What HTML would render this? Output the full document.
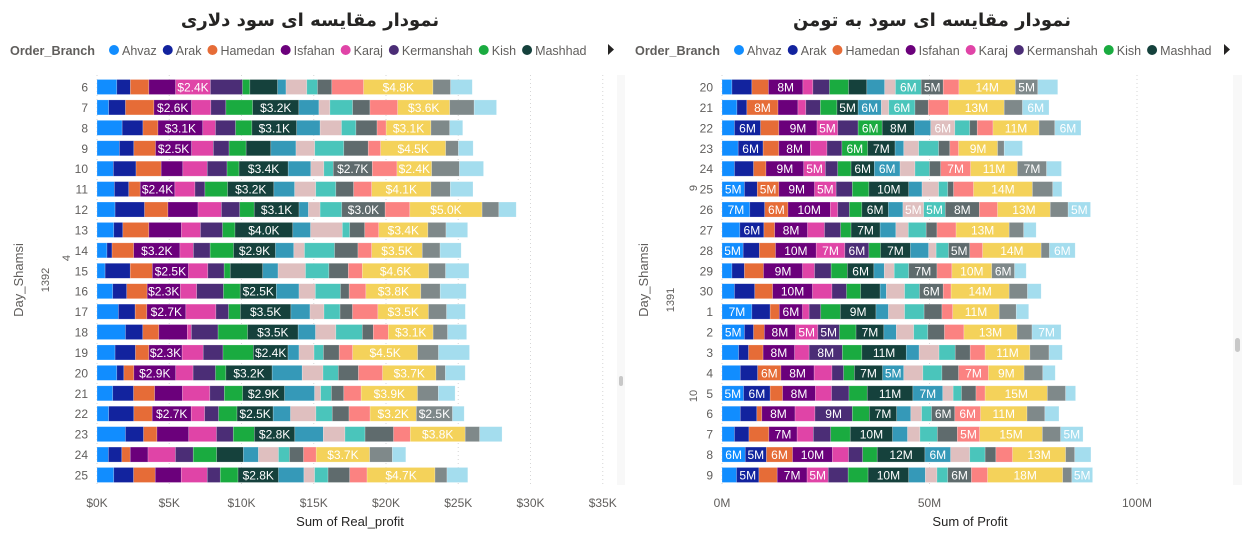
<!DOCTYPE html>
<html><head><meta charset="utf-8">
<style>
body{margin:0;background:#fff;font-family:"Liberation Sans","DejaVu Sans",sans-serif;}
svg{display:block}
</style></head>
<body>
<svg id="c" width="1248" height="540" xmlns="http://www.w3.org/2000/svg"></svg>
<script>
const seriesNames=["Ahvaz","Arak","Hamedan","Isfahan","Karaj","Kermanshah","Kish","Mashhad","S9","S10","S11","S12","S13","S14","S15","S16"];
const seriesColors=["#118DFF","#12239E","#E66C37","#6B007B","#E044A7","#4B2D76","#1AAB40","#15413C","#3599B8","#DFBFBF","#4AC5BB","#5F6B6D","#FB8281","#F4D25A","#7F898A","#A4DDEE"];
const leftDays=["6","7","8","9","10","11","12","13","14","15","16","17","18","19","20","21","22","23","24","25"];
const leftValues=[
[1.37,0.94,1.28,1.85,2.41,2.22,0.51,1.92,0.58,1.44,0.74,0.99,2.2,4.8,1.22,1.5],
[0.81,1.16,1.97,2.6,1.34,1.04,1.85,3.2,1.39,0.76,1.57,1.2,1.92,3.6,1.69,1.55],
[1.74,1.44,1.04,3.1,0.88,1.39,1.13,3.1,1.62,1.48,1.0,1.46,0.63,3.1,1.3,0.9],
[1.55,1.0,1.5,2.5,1.5,1.09,1.18,1.71,1.74,1.3,2.01,1.69,0.86,4.5,0.88,1.02],
[1.13,1.57,1.74,1.5,1.69,1.37,0.83,3.4,1.57,0.9,0.65,2.7,1.71,2.4,1.92,1.67],
[1.2,1.0,0.79,2.4,1.39,0.69,1.57,3.2,1.44,1.46,1.39,1.23,1.25,4.1,1.34,1.57],
[1.25,2.04,1.62,2.08,1.62,1.27,1.0,3.1,0.65,0.81,1.5,3.0,1.71,5.0,1.16,1.2],
[1.16,0.63,1.8,2.25,1.32,1.53,0.86,4.0,1.23,2.2,0.51,1.04,0.97,3.4,1.25,1.5],
[0.69,0.35,1.5,3.2,0.93,1.16,1.62,2.9,1.27,0.74,2.08,1.62,0.95,3.5,1.23,1.46],
[0.56,1.74,1.53,2.5,1.34,1.13,0.42,2.25,1.06,1.9,1.62,1.34,0.97,4.6,1.16,1.62],
[1.09,0.97,1.41,2.3,1.13,1.85,1.16,2.5,1.57,1.13,1.74,0.6,1.16,3.8,1.34,1.8],
[1.48,1.16,0.81,2.7,2.08,0.88,0.81,3.5,1.32,0.97,1.11,0.86,1.76,3.5,1.25,1.3],
[1.97,1.2,1.11,1.97,0.28,1.85,2.04,3.5,1.2,1.41,1.83,0.76,1.04,3.1,1.0,1.32],
[1.25,1.41,0.93,2.3,1.46,1.37,2.1,2.4,0.76,1.04,0.65,1.09,0.93,4.5,1.44,2.15],
[1.37,0.49,0.69,2.9,1.2,1.55,0.72,3.2,2.08,1.44,1.06,1.39,1.67,3.7,0.65,1.37],
[1.09,1.44,1.46,1.92,1.9,1.0,1.27,2.9,2.08,0.42,0.74,0.86,1.2,3.9,1.44,1.16],
[0.81,1.74,1.27,2.7,0.93,0.97,1.27,2.5,1.2,1.76,1.13,1.16,1.46,3.2,2.5,0.81],
[1.97,1.25,0.93,2.2,1.92,1.16,1.46,2.8,1.97,1.5,1.39,1.97,1.16,3.8,1.0,1.55],
[0.79,0.93,0.58,1.23,1.9,1.23,1.62,1.85,1.04,1.39,0.76,0.97,0.88,3.7,1.57,0.93],
[1.16,1.37,1.5,1.8,1.8,0.9,1.23,2.8,1.76,0.74,0.93,1.5,1.2,4.7,0.83,1.44]];
const leftTicks=[0,5,10,15,20,25,30,35];
const leftTickLabels=["$0K","$5K","$10K","$15K","$20K","$25K","$30K","$35K"];
const rightDays=["20","21","22","23","24","25","26","27","28","29","30","1","2","3","4","5","6","7","8","9"];
const rightValues=[
[2.4,4.8,4.0,8.3,2.4,4.0,4.6,4.4,4.3,2.6,6.2,5.3,3.8,13.6,5.4,4.8],
[3.6,2.4,7.5,4.8,1.9,3.5,4.0,5.1,5.6,1.8,6.3,3.2,4.9,13.4,4.4,6.4],
[3.0,6.3,4.4,9.2,5.0,4.9,5.8,7.8,3.9,5.8,3.6,1.8,3.8,11.1,3.8,6.3],
[3.9,6.0,3.8,7.6,4.0,3.6,6.2,6.6,2.1,3.6,4.8,2.7,2.1,9.4,1.6,4.4],
[3.0,4.6,3.0,9.1,5.2,3.0,3.2,5.6,6.2,3.6,3.5,2.7,7.2,11.3,7.0,3.6],
[5.4,3.1,5.2,8.6,5.2,3.9,4.0,9.6,3.2,4.0,2.2,1.4,4.8,14.2,4.9,2.2],
[6.7,3.6,5.6,10.2,1.8,2.8,3.0,6.4,3.5,5.0,5.2,8.2,4.4,12.7,4.3,5.4],
[4.3,5.8,2.6,7.9,4.1,3.9,2.5,7.0,3.8,3.0,4.3,2.6,4.6,12.8,3.5,3.0],
[5.1,3.9,3.9,9.8,6.9,5.8,2.8,7.2,4.4,1.8,3.0,5.1,3.1,14.1,2.0,6.2],
[2.4,3.0,4.6,9.4,2.9,4.0,3.9,6.4,2.5,2.4,3.5,6.8,3.6,9.6,5.5,2.8],
[3.0,4.9,4.3,9.6,4.7,3.5,3.4,4.7,1.5,4.4,3.6,5.7,1.9,14.0,4.4,3.3],
[7.2,4.4,2.2,5.6,1.6,2.8,4.7,8.6,3.0,3.9,4.7,4.3,2.6,11.2,4.1,3.0],
[5.4,2.2,2.6,7.5,5.4,5.2,4.0,6.7,3.0,4.2,3.4,4.0,4.7,12.8,3.6,7.0],
[4.0,2.4,3.5,7.6,3.5,8.0,4.7,10.7,3.1,4.8,3.9,3.6,3.6,10.8,4.6,3.2],
[4.4,4.2,5.6,8.0,4.3,2.8,2.6,6.8,5.1,4.6,4.6,4.0,7.2,8.6,4.5,3.0],
[5.2,6.4,3.0,7.9,3.9,4.2,4.4,11.0,7.2,2.5,2.0,3.5,2.2,15.0,4.4,2.4],
[4.4,4.0,1.2,8.0,4.8,9.0,4.1,6.6,3.4,2.6,2.4,5.6,6.2,11.2,4.3,3.4],
[3.0,3.5,4.8,6.8,3.9,4.2,4.7,10.2,3.6,3.0,4.2,4.8,5.4,15.1,4.4,5.4],
[5.6,5.1,6.3,9.6,3.9,3.4,3.5,11.5,6.2,4.6,3.7,2.6,4.0,12.8,2.2,3.9],
[3.5,5.4,4.4,7.2,5.1,4.8,4.8,9.8,4.0,2.8,2.6,5.7,3.9,18.1,2.2,5.0]];
const rightTicks=[0,50,100];
const rightTickLabels=["0M","50M","100M"];

const svg=document.getElementById('c');
const NS="http://www.w3.org/2000/svg";
function mk(tag,attrs,text){const e=document.createElementNS(NS,tag);for(const k in attrs)e.setAttribute(k,attrs[k]);if(text!==undefined)e.textContent=text;svg.appendChild(e);return e;}

function drawChart(o){
  const xs=v=>o.x0+v*o.pxPer;
  const ys=i=>o.yTop+i*o.step;
  o.ticks.forEach((t,i)=>{
    const g=mk('line',{x1:xs(t),x2:xs(t),y1:o.yTop-12,y2:o.yTop+19*o.step+12,stroke:'#d6d6d6','stroke-dasharray':'1,3'});
    
    const tl=mk('text',{x:xs(t),y:507,'text-anchor':'middle','font-size':'12',fill:'#605E5C'},o.tickLabels[i]);
    
  });
  o.days.forEach((d,i)=>{
    const yc=ys(i);
    const dl=mk('text',{x:o.dayX,y:yc+4.5,'text-anchor':'end','font-size':'12',fill:'#605E5C'},d);
    
    let acc=0;
    o.values[i].forEach((v,s)=>{
      const x1=xs(acc),x2=xs(acc+v);acc+=v;
      const r=mk('rect',{x:x1,y:yc-7.5,width:Math.max(0,x2-x1),height:15,fill:seriesColors[s],stroke:'#fff','stroke-opacity':'0.35','stroke-width':'0.6'});
      
      if(v>=o.labelMin){
        const t=mk('text',{x:(x1+x2)/2,y:yc+4.5,'text-anchor':'middle','font-size':'12',fill:'#fff'},o.fmt(v));
        
      }
    });
  });
}
drawChart({id:'dollar',x0:97,pxPer:14.45,yTop:87,step:20.42,ticks:leftTicks,tickLabels:leftTickLabels,days:leftDays,values:leftValues,dayX:88,labelMin:2.3,fmt:v=>'$'+v.toFixed(1)+'K'});
drawChart({id:'toman',x0:722,pxPer:4.15,yTop:87,step:20.42,ticks:rightTicks,tickLabels:rightTickLabels,days:rightDays,values:rightValues,dayX:713,labelMin:5.0,fmt:v=>Math.round(v)+'M'});

function T(x,y,txt,attrs,name){const e=mk('text',Object.assign({x:x,y:y},attrs),txt);return e;}
T(310,26,'نمودار مقایسه ای سود دلاری',{'text-anchor':'middle','font-size':'18','font-weight':'bold',fill:'#252423','font-family':'"DejaVu Sans","Noto Sans CJK SC",sans-serif'},'left-chart-title');
T(932,26,'نمودار مقایسه ای سود به تومن',{'text-anchor':'middle','font-size':'18','font-weight':'bold',fill:'#252423','font-family':'"DejaVu Sans","Noto Sans CJK SC",sans-serif'},'right-chart-title');
T(350,526,'Sum of Real_profit',{'text-anchor':'middle','font-size':'13',fill:'#252423'},'left-x-axis-title');
T(970,526,'Sum of Profit',{'text-anchor':'middle','font-size':'13',fill:'#252423'},'right-x-axis-title');
function R(x,y,txt,size,name){const e=mk('text',{x:x,y:y,'text-anchor':'middle','font-size':size,fill:'#605E5C',transform:'rotate(-90 '+x+' '+y+')'},txt);}
R(23,280,'Day_Shamsi','13','left-y-axis-title');
R(49,280,'1392','11','left-year-label');
R(70,258,'4','11','left-month-label');
R(648,280,'Day_Shamsi','13','right-y-axis-title');
R(674,300,'1391','11','right-year-label');
R(697,188,'9','11','right-month-9-label');
R(697,396,'10','11','right-month-10-label');
function legend(x0,name){
  T(x0,55,'Order_Branch',{'font-size':'13','font-weight':'bold',fill:'#605E5C',textLength:'85',lengthAdjust:'spacingAndGlyphs'},name+'-title');
  const items=["Ahvaz","Arak","Hamedan","Isfahan","Karaj","Kermanshah","Kish","Mashhad"];
  let x=x0+104;
  items.forEach((it,i)=>{
    const c=mk('circle',{cx:x,cy:50,r:5,fill:seriesColors[i]});
    
    const t=T(x+8,55,it,{'font-size':'12.5',fill:'#605E5C'},name+'-entry-'+it.toLowerCase());
    x=x+8+t.getComputedTextLength()+11;
  });
}
legend(10,'left-legend');
legend(635,'right-legend');
const a1=mk('polygon',{points:'608,44 614,49.5 608,55',fill:'#252423'});
const a2=mk('polygon',{points:'1224,44 1230,49.5 1224,55',fill:'#252423'});
const s1=mk('rect',{x:619,y:376,width:4,height:10,rx:2,fill:'#c8c8c8'});
const s2=mk('rect',{x:1235,y:338,width:5,height:14,rx:2.5,fill:'#c8c8c8'});
const tr1=mk('rect',{x:617,y:75,width:8,height:410,fill:'#f3f3f3','fill-opacity':'0.6'});
svg.insertBefore(tr1,svg.firstChild);
const tr2=mk('rect',{x:1233,y:75,width:9,height:410,fill:'#f3f3f3','fill-opacity':'0.6'});
svg.insertBefore(tr2,svg.firstChild);
</script>
</body></html>
